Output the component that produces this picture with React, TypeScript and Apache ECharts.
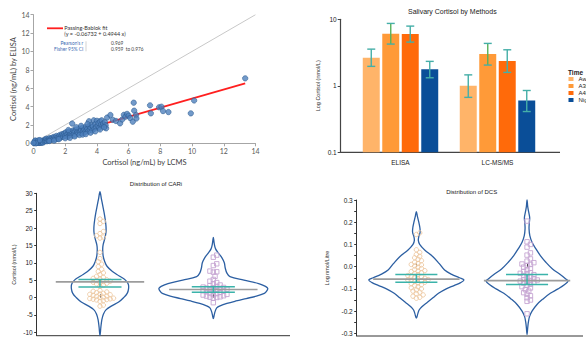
import React, { useEffect, useRef } from "react";
import * as echarts from "echarts";

// ---------- Panel 1: method comparison scatter ----------
const scatterLcms = [
  0.05, 0.08, 0.1, 0.12, 0.15, 0.18, 0.2, 0.22, 0.25, 0.28, 0.3, 0.32, 0.35, 0.38, 0.4, 0.42, 0.45, 0.48, 0.5, 0.52,
  0.55, 0.58, 0.6, 0.1, 0.3, 0.65, 0.7, 0.72, 0.75, 0.8, 0.82, 0.85, 0.9, 0.95, 1.0, 1.02, 1.05, 1.1, 1.15, 1.2,
  1.25, 1.3, 1.35, 1.4, 1.45, 1.5, 1.55, 1.6, 1.65, 1.7, 1.75, 1.8, 1.85, 1.9, 1.95, 2.0, 2.05, 2.1, 2.15, 2.2,
  2.25, 2.3, 2.35, 2.4, 2.44, 2.45, 2.5, 2.55, 2.6, 2.65, 2.7, 2.75, 2.8, 2.85, 2.9, 2.95, 3.0, 3.05, 3.1, 3.15,
  3.2, 3.25, 3.3, 3.35, 3.4, 3.45, 3.5, 3.52, 3.55, 3.6, 3.65, 3.7, 3.75, 3.8, 3.85, 3.9, 3.95, 4.0, 4.05, 4.1,
  4.15, 4.2, 4.25, 4.3, 4.35, 4.4, 4.5, 4.55, 4.58, 4.64, 4.85, 5.0, 5.2, 5.46, 5.6, 5.7, 5.8, 5.9, 6.0, 6.1,
  6.26, 6.32, 6.35, 6.47, 6.49, 7.35, 7.4, 7.92, 8.07, 8.17, 8.51, 9.92, 10.13, 13.35,
  1.0, 1.3, 1.6, 2.0, 2.3, 2.6, 2.9, 3.1, 3.3, 3.6, 3.9, 4.2, 2.2, 2.7, 3.0, 3.4, 4.45, 0.4, 0.15, 0.0
];
const scatterElisa = [
  0.02, 0.1, 0.05, 0.25, 0.08, 0.15, 0.03, 0.12, 0.2, 0.06, 0.1, 0.18, 0.04, 0.14, 0.08, 0.22, 0.12, 0.05, 0.18, 0.1,
  0.25, 0.15, 0.08, 0.3, 0.32, 0.3, 0.2, 0.42, 0.28, 0.35, 0.5, 0.22, 0.4, 0.3, 0.45, 0.58, 0.35, 0.5, 0.4, 0.62,
  0.48, 0.7, 0.55, 0.42, 0.8, 0.62, 0.5, 0.75, 0.9, 0.6, 0.82, 1.0, 0.7, 0.95, 1.1, 0.8, 1.2, 0.95, 0.7, 1.15,
  1.3, 0.9, 1.05, 1.25, 2.15, 0.85, 1.4, 1.1, 1.3, 0.95, 1.5, 1.2, 1.05, 1.35, 1.6, 1.25, 1.45, 1.1, 1.7, 1.35,
  1.55, 1.2, 1.8, 1.45, 1.6, 1.3, 2.4, 1.85, 1.5, 1.7, 2.0, 1.4, 1.85, 2.5, 1.6, 2.1, 1.75, 2.45, 1.9, 2.2,
  1.7, 2.4, 2.0, 2.5, 1.85, 2.15, 2.3, 1.95, 1.63, 2.8, 3.08, 2.55, 2.43, 2.17, 2.6, 3.1, 2.9, 3.2, 3.0, 2.75,
  2.35, 4.42, 3.55, 3.08, 2.7, 4.13, 3.26, 3.92, 3.98, 3.51, 3.4, 3.26, 4.66, 7.07,
  0.25, 0.3, 0.45, 0.55, 0.6, 0.75, 0.9, 0.95, 1.0, 1.15, 1.3, 1.5, 1.45, 1.75, 1.9, 2.1, 1.75, 0.35, 0.0, 0.05
];
const fitIntercept = -0.06732;
const fitSlope = 0.4944;
const fitLcmsRange = [0.14, 13.35];
const identityRange = [0, 14];

// ---------- Panel 2: salivary cortisol by methods ----------
const methodCategories = ["ELISA", "LC-MS/MS"];
const timeLevels = ["Awake", "A30", "A45", "Night"];
const cortisolMean = [
  [2.64, 1.0],
  [6.04, 3.0],
  [6.0, 2.35],
  [1.77, 0.6]
];
const cortisolLow = [
  [1.96, 0.67],
  [4.24, 2.05],
  [4.54, 1.59],
  [1.32, 0.41]
];
const cortisolHigh = [
  [3.56, 1.46],
  [8.67, 4.34],
  [7.9, 3.48],
  [2.33, 0.85]
];

// ---------- Panel 3: distribution of CARi ----------
const violinCategories = ["ELISA", "LC-MS/MS"];
const cariElisa = [
  22.6, 21.9, 21.3, 19.0, 18.4, 17.8, 17.4, 17.1, 13.0, 11.2, 10.3, 9.6, 8.9, 8.1, 7.5, 7.1, 6.6, 6.1, 5.8, 5.5,
  5.3, 5.1, 4.9, 4.7, 4.6, 4.4, 4.3, 4.1, 3.9, 3.6, 3.2, 2.0, 1.6, 1.4, 1.2, 1.0, 0.8, 0.6, 0.4, 0.3, 0.1, 0.0,
  -0.2, -0.3, -0.4, -0.5, -0.6, -0.7, -0.9, -1.1, 1.8, 0.9, -2.2, -2.5
];
const cariLcms = [
  12.2, 11.6, 9.7, 9.2, 7.6, 7.4, 7.3, 6.1, 5.2, 4.7, 4.3, 3.9, 3.6, 3.4, 3.2, 3.0, 2.9, 2.7, 2.6, 2.4, 2.3, 2.1,
  2.0, 1.8, 1.7, 1.5, 1.3, 1.1, 0.9, 0.7, 0.5, 0.4, 0.2, 0.1, 0.0, -0.2, 2.8, 1.9, 0.8, -1.5
];
// [value, half width as a share of the category band]
const cariElisaDensity = [
  [30.5, 0], [28.5, 0.012], [26.5, 0.024], [24.5, 0.036], [22.5, 0.046], [20.5, 0.053], [18.8, 0.053], [17, 0.043],
  [15.2, 0.028], [13.8, 0.024], [12, 0.028], [10.5, 0.04], [9, 0.062], [7.5, 0.11], [6.2, 0.17], [5, 0.225],
  [3.8, 0.25], [2.5, 0.252], [1.2, 0.24], [0, 0.21], [-1.3, 0.165], [-2.5, 0.1], [-3.5, 0.055], [-4.8, 0.03],
  [-6.5, 0.016], [-8.5, 0.008], [-11, 0]
];
const cariLcmsDensity = [
  [17.3, 0], [15.5, 0.008], [14, 0.02], [12.8, 0.045], [11.5, 0.075], [10, 0.097], [8.5, 0.105], [7, 0.12],
  [6, 0.147], [5, 0.27], [4, 0.4], [3.2, 0.46], [2.6, 0.48], [1.8, 0.47], [1.2, 0.45], [0.4, 0.38], [-0.3, 0.29],
  [-1, 0.2], [-1.7, 0.12], [-2.4, 0.06], [-3, 0.03], [-4, 0.016], [-5, 0.008], [-6.1, 0]
];
const cariCenter = [4.5, 2.3];
const cariCiHigh = [5.2, 3.1];
const cariCiLow = [3.0, 1.5];
const cariTicks = [-10, -5, 0, 5, 10, 15, 20, 25, 30];

// ---------- Panel 4: distribution of DCS ----------
const dcsElisa = [
  0.152, 0.145, 0.076, 0.064, 0.055, 0.047, 0.04, 0.033, 0.027, 0.02, 0.014, 0.008, 0.003, -0.002, -0.008, -0.013,
  -0.018, -0.022, -0.027, -0.031, -0.036, -0.04, -0.044, -0.048, -0.052, -0.055, -0.058, -0.061, -0.064, -0.067,
  -0.07, -0.073, -0.077, -0.081, -0.085, -0.09, -0.095, -0.1, -0.105, -0.11, -0.115, -0.121, -0.127, -0.133,
  -0.138, -0.142, -0.06, -0.045, -0.02, 0.01
];
const dcsLcms = [
  0.205, 0.112, 0.1, 0.088, 0.062, 0.052, 0.035, 0.025, 0.018, 0.012, 0.005, -0.002, -0.008, -0.015, -0.022,
  -0.027, -0.032, -0.036, -0.04, -0.045, -0.05, -0.054, -0.058, -0.062, -0.066, -0.07, -0.074, -0.079, -0.084,
  -0.09, -0.096, -0.103, -0.11, -0.117, -0.124, -0.131, -0.14, -0.15, -0.156, -0.212, -0.03, -0.06, -0.065, 0.01
];
const dcsElisaDensity = [
  [0.248, 0], [0.225, 0.01], [0.2, 0.022], [0.175, 0.032], [0.155, 0.034], [0.135, 0.022], [0.118, 0.018],
  [0.1, 0.03], [0.075, 0.075], [0.045, 0.15], [0.015, 0.205], [-0.015, 0.255], [-0.035, 0.32], [-0.05, 0.39],
  [-0.06, 0.43], [-0.072, 0.4], [-0.085, 0.34], [-0.1, 0.27], [-0.12, 0.2], [-0.14, 0.15], [-0.16, 0.1],
  [-0.18, 0.05], [-0.195, 0.025], [-0.21, 0.014], [-0.232, 0]
];
const dcsLcmsDensity = [
  [0.3, 0], [0.27, 0.006], [0.245, 0.015], [0.22, 0.024], [0.195, 0.02], [0.17, 0.018], [0.14, 0.025],
  [0.11, 0.045], [0.08, 0.08], [0.05, 0.12], [0.02, 0.17], [-0.01, 0.23], [-0.035, 0.3], [-0.055, 0.35],
  [-0.065, 0.37], [-0.08, 0.34], [-0.1, 0.28], [-0.12, 0.21], [-0.145, 0.145], [-0.17, 0.09], [-0.2, 0.045],
  [-0.225, 0.022], [-0.25, 0.012], [-0.275, 0.006], [-0.305, 0]
];
const dcsCenter = [-0.056, -0.063];
const dcsCiHigh = [-0.035, -0.035];
const dcsCiLow = [-0.07, -0.08];
const dcsTicks = [-0.3, -0.2, -0.1, 0, 0.1, 0.2, 0.3];
const dcsMinorTicks = [-0.3, -0.25, -0.2, -0.15, -0.1, -0.05, 0, 0.05, 0.1, 0.15, 0.2, 0.25, 0.3];

// ---------- styles ----------
const FONT = "Liberation Sans";
const BAR_COLORS = ["#FFB469", "#FF9A38", "#FF6A0A", "#0A4E98"];
const ERR_COLORS = ["#45AFA8", "#58B15A", "#45AFA8", "#45AFA8"];
const VIOLIN_STROKE = "#2C5FA2";
const POINT_COLORS = ["#EDC8A2", "#C6A6D3"];

function barRenderer(k: number) {
  return (params: any, api: any) => {
    const cat = api.value(0);
    const val = api.value(1);
    const lo = api.value(2);
    const hi = api.value(3);
    const band = api.size([1, 0])[0];
    const bw = band * 0.175;
    const gap = band * 0.026;
    const top = api.coord([cat, val]);
    const base = api.coord([cat, 0.1]);
    const cx = top[0] + (k - 1.5) * (bw + gap);
    const pl = api.coord([cat, lo]);
    const ph = api.coord([cat, hi]);
    const cap = 4;
    const ls = { stroke: ERR_COLORS[k], lineWidth: 1.4 };
    const cs = { stroke: "#45AFA8", lineWidth: 1.4 };
    return {
      type: "group",
      children: [
        { type: "rect", shape: { x: cx - bw / 2, y: top[1], width: bw, height: base[1] - top[1] }, style: { fill: BAR_COLORS[k] } },
        { type: "line", shape: { x1: cx, y1: ph[1], x2: cx, y2: pl[1] }, style: ls },
        { type: "line", shape: { x1: cx - cap, y1: ph[1], x2: cx + cap, y2: ph[1] }, style: cs },
        { type: "line", shape: { x1: cx - cap, y1: pl[1], x2: cx + cap, y2: pl[1] }, style: cs }
      ]
    };
  };
}

function violinRenderer(densities: number[][][]) {
  return (params: any, api: any) => {
    const cat = api.value(0);
    const band = api.size([1, 0])[0];
    const prof = densities[params.dataIndex];
    const right: number[][] = [];
    const left: number[][] = [];
    prof.forEach(([v, w], i) => {
      const p = api.coord([cat, v]);
      right.push([p[0] + w * band, p[1]]);
      if (i > 0 && i < prof.length - 1) left.push([p[0] - w * band, p[1]]);
    });
    const pts = right.concat(left.reverse());
    return {
      type: "polygon",
      shape: { points: pts, smooth: 0.35 },
      style: { fill: "none", stroke: VIOLIN_STROKE, lineWidth: 1.3 }
    };
  };
}

function swarmRenderer(groups: number[][]) {
  return (params: any, api: any) => {
    const idx = params.dataIndex;
    const cat = api.value(0);
    const vals = [...groups[idx]].sort((a, b) => a - b);
    const D = 3.4;
    const step = 1.7;
    const placed: number[][] = [];
    const children: any[] = [];
    const color = POINT_COLORS[idx];
    vals.forEach((v) => {
      const p = api.coord([cat, v]);
      let dx = 0;
      for (let k = 0; k < 80; k++) {
        const cand = k === 0 ? 0 : (k % 2 ? 1 : -1) * Math.ceil(k / 2) * step;
        const ok = placed.every((q) => (q[0] - cand) ** 2 + (q[1] - p[1]) ** 2 >= D * D);
        if (ok) {
          dx = cand;
          break;
        }
      }
      placed.push([dx, p[1]]);
      if (idx === 0) {
        children.push({
          type: "circle",
          shape: { cx: p[0] + dx, cy: p[1], r: 2.2 },
          style: { fill: "none", stroke: color, lineWidth: 0.9 }
        });
      } else {
        children.push({
          type: "rect",
          shape: { x: p[0] + dx - 2.2, y: p[1] - 2.2, width: 4.4, height: 4.4 },
          style: { fill: "none", stroke: color, lineWidth: 0.9 }
        });
      }
    });
    return { type: "group", children };
  };
}

function statsRenderer(center: number[], hi: number[], lo: number[]) {
  return (params: any, api: any) => {
    const i = params.dataIndex;
    const cat = api.value(0);
    const band = api.size([1, 0])[0];
    const pc = api.coord([cat, center[i]]);
    const ph = api.coord([cat, hi[i]]);
    const pl = api.coord([cat, lo[i]]);
    const gw = band * 0.39;
    const tw = band * 0.19;
    const grey = { stroke: "#9C9C9C", lineWidth: 1.6 };
    const teal = { stroke: "#3BB3AA", lineWidth: 1.5 };
    return {
      type: "group",
      children: [
        { type: "line", shape: { x1: pc[0] - gw, y1: pc[1], x2: pc[0] + gw, y2: pc[1] }, style: grey },
        { type: "line", shape: { x1: ph[0] - tw, y1: ph[1], x2: ph[0] + tw, y2: ph[1] }, style: teal },
        { type: "line", shape: { x1: pl[0] - tw, y1: pl[1], x2: pl[0] + tw, y2: pl[1] }, style: teal },
        { type: "line", shape: { x1: ph[0], y1: ph[1], x2: pl[0], y2: pl[1] }, style: teal }
      ]
    };
  };
}

function txt(text: string, x: number, y: number, o: any = {}) {
  return {
    type: "text",
    x,
    y,
    rotation: o.rotation || 0,
    silent: true,
    style: {
      text,
      fill: o.fill || "#333",
      fontSize: o.fontSize || 6,
      fontFamily: o.fontFamily || FONT,
      fontWeight: o.fontWeight || "normal",
      textAlign: o.align || "left",
      textVerticalAlign: "middle"
    }
  };
}

function ln(x1: number, y1: number, x2: number, y2: number, stroke: string, w: number) {
  return { type: "line", silent: true, shape: { x1, y1, x2, y2 }, style: { stroke, lineWidth: w } };
}

function buildOption() {
  const scatterData = scatterLcms.map((x, i) => [x, scatterElisa[i]]);
  const fitData = fitLcmsRange.map((x) => [x, fitIntercept + fitSlope * x]);
  const identityData = identityRange.map((x) => [x, x]);

  const violinAxisLabel = { fontSize: 6.5, color: "#222", fontFamily: FONT };

  const series: any[] = [
    {
      type: "line",
      xAxisIndex: 0,
      yAxisIndex: 0,
      data: identityData,
      symbol: "none",
      silent: true,
      lineStyle: { color: "#C8C8C8", width: 1 },
      z: 1
    },
    {
      type: "line",
      xAxisIndex: 0,
      yAxisIndex: 0,
      data: fitData,
      symbol: "none",
      silent: true,
      lineStyle: { color: "#FF1F1F", width: 1.8 },
      z: 2
    },
    {
      type: "scatter",
      xAxisIndex: 0,
      yAxisIndex: 0,
      data: scatterData,
      symbolSize: 5.4,
      itemStyle: { color: "#4F81BD", borderColor: "#2B5A90", borderWidth: 0.7 },
      z: 3
    }
  ];

  timeLevels.forEach((name, k) => {
    series.push({
      type: "custom",
      name,
      xAxisIndex: 1,
      yAxisIndex: 1,
      itemStyle: { color: BAR_COLORS[k] },
      data: methodCategories.map((_, c) => [c, cortisolMean[k][c], cortisolLow[k][c], cortisolHigh[k][c]]),
      encode: { x: 0, y: 1 },
      renderItem: barRenderer(k)
    });
  });

  const catData = violinCategories.map((_, c) => [c, 0]);
  series.push(
    { type: "custom", xAxisIndex: 2, yAxisIndex: 2, data: catData, encode: { x: 0, y: 1 }, renderItem: violinRenderer([cariElisaDensity, cariLcmsDensity]), z: 2 },
    { type: "custom", xAxisIndex: 2, yAxisIndex: 2, data: catData, encode: { x: 0, y: 1 }, renderItem: swarmRenderer([cariElisa, cariLcms]), z: 3 },
    { type: "custom", xAxisIndex: 2, yAxisIndex: 2, data: catData, encode: { x: 0, y: 1 }, renderItem: statsRenderer(cariCenter, cariCiHigh, cariCiLow), z: 4 },
    { type: "custom", xAxisIndex: 3, yAxisIndex: 3, data: catData, encode: { x: 0, y: 1 }, renderItem: violinRenderer([dcsElisaDensity, dcsLcmsDensity]), z: 2 },
    { type: "custom", xAxisIndex: 3, yAxisIndex: 3, data: catData, encode: { x: 0, y: 1 }, renderItem: swarmRenderer([dcsElisa, dcsLcms]), z: 3 },
    { type: "custom", xAxisIndex: 3, yAxisIndex: 3, data: catData, encode: { x: 0, y: 1 }, renderItem: statsRenderer(dcsCenter, dcsCiHigh, dcsCiLow), z: 4 }
  );

  const p1Label = { fontSize: 7, color: "#595959", fontFamily: "Lato", margin: 4 };
  const p1Line = { show: true, lineStyle: { color: "#A6A6A6", width: 1 } };
  const p1Tick = { show: true, length: 3, lineStyle: { color: "#A6A6A6" } };

  return {
    animation: false,
    backgroundColor: "#ffffff",
    textStyle: { fontFamily: FONT },
    grid: [
      { left: 33.5, top: 14.7, width: 222, height: 128.6, outerBoundsMode: "none" },
      { left: 352, top: 19.3, width: 194, height: 133, outerBoundsMode: "none" },
      { left: 43.3, top: 193.3, width: 226.7, height: 142.4, outerBoundsMode: "none" },
      { left: 361, top: 200, width: 221.4, height: 136, outerBoundsMode: "none" }
    ],
    xAxis: [
      {
        gridIndex: 0,
        type: "value",
        min: 0,
        max: 14,
        interval: 2,
        axisLine: p1Line,
        axisTick: p1Tick,
        axisLabel: p1Label,
        splitLine: { show: false },
        name: "Cortisol (ng/mL) by LCMS",
        nameLocation: "middle",
        nameGap: 15,
        nameTextStyle: { fontSize: 7.5, color: "#404040", fontFamily: "Lato" }
      },
      {
        gridIndex: 1,
        type: "category",
        data: methodCategories,
        axisLine: { show: false },
        axisTick: { show: false },
        axisLabel: { fontSize: 6.5, color: "#222", margin: 7 }
      },
      {
        gridIndex: 2,
        type: "category",
        data: violinCategories,
        axisLine: { show: false },
        axisTick: { show: true, inside: true, alignWithLabel: true, length: 3, lineStyle: { color: "#333" } },
        axisLabel: { ...violinAxisLabel, margin: 4 }
      },
      {
        gridIndex: 3,
        type: "category",
        data: violinCategories,
        axisLine: { show: false },
        axisTick: { show: true, inside: true, alignWithLabel: true, length: 3, lineStyle: { color: "#333" } },
        axisLabel: { ...violinAxisLabel, margin: 4 }
      }
    ],
    yAxis: [
      {
        gridIndex: 0,
        type: "value",
        min: 0,
        max: 14,
        interval: 2,
        axisLine: p1Line,
        axisTick: p1Tick,
        axisLabel: p1Label,
        splitLine: { show: false },
        name: "Cortisol (ng/mL) by ELISA",
        nameLocation: "middle",
        nameGap: 14,
        nameTextStyle: { fontSize: 7.5, color: "#404040", fontFamily: "Lato" }
      },
      {
        gridIndex: 1,
        type: "log",
        logBase: 10,
        min: 0.1,
        max: 10,
        offset: 11.3,
        axisLine: { show: true, lineStyle: { color: "#444", width: 1.2 } },
        axisTick: { show: true, length: 3, lineStyle: { color: "#444" } },
        axisLabel: { fontSize: 6.5, color: "#222", margin: 4 },
        splitLine: { show: false },
        name: "Log Cortisol (nmol/L)",
        nameLocation: "middle",
        nameGap: 20,
        nameTextStyle: { fontSize: 5.5, color: "#333" }
      },
      {
        gridIndex: 2,
        type: "value",
        min: -11,
        max: 30,
        offset: 6.6,
        axisLine: { show: true, lineStyle: { color: "#333", width: 1 } },
        axisTick: { show: true, length: 2.5, customValues: cariTicks, lineStyle: { color: "#333" } },
        axisLabel: { fontSize: 6.5, color: "#222", margin: 4, customValues: cariTicks },
        splitLine: { show: false },
        name: "Cortisol (nmol/L)",
        nameLocation: "middle",
        nameGap: 20,
        nameTextStyle: { fontSize: 5.5, color: "#333" }
      },
      {
        gridIndex: 3,
        type: "value",
        min: -0.312,
        max: 0.3,
        offset: 4.3,
        axisLine: { show: true, lineStyle: { color: "#333", width: 1 } },
        axisTick: { show: true, length: 2.5, customValues: dcsMinorTicks, lineStyle: { color: "#333" } },
        axisLabel: {
          fontSize: 6.5,
          color: "#222",
          margin: 4,
          customValues: dcsTicks,
          formatter: (v: number) => v.toFixed(1)
        },
        splitLine: { show: false },
        name: "Log nmol/Litre",
        nameLocation: "middle",
        nameGap: 27,
        nameTextStyle: { fontSize: 5.5, color: "#333" }
      }
    ],
    legend: {
      orient: "vertical",
      left: 568.5,
      top: 76,
      padding: 0,
      itemWidth: 5,
      itemHeight: 4,
      itemGap: 1,
      textStyle: { fontSize: 6, color: "#222", padding: [0, 0, 0, 0] },
      data: timeLevels.map((n) => ({ name: n, icon: "rect" })),
      selectedMode: false
    },
    graphic: [
      // panel 1 legend
      ln(47, 28.3, 63, 28.3, "#FF1F1F", 1.8),
      txt("Passing-Bablok fit", 64.3, 28.3, { fontSize: 5.5, fontFamily: "Lato", fill: "#333" }),
      txt("(y = -0.06732 + 0.4944 x)", 64.3, 34.3, { fontSize: 5.5, fontFamily: "Lato", fill: "#333" }),
      txt("Pearson's r", 83.3, 43.3, { fontSize: 4.8, fontFamily: "Lato", fill: "#3D6BB3", align: "right" }),
      txt("Fisher 95% CI", 83.3, 48.7, { fontSize: 4.8, fontFamily: "Lato", fill: "#3D6BB3", align: "right" }),
      ln(86, 41.3, 86, 51.3, "#C8C8C8", 0.8),
      txt("0.969", 111, 43.3, { fontSize: 4.8, fontFamily: "Lato", fill: "#444" }),
      txt("0.959  to 0.976", 111, 48.7, { fontSize: 4.8, fontFamily: "Lato", fill: "#444" }),
      // panel 2
      txt("Salivary Cortisol by Methods", 452.3, 11.7, { fontSize: 7, fill: "#222", align: "center" }),
      ln(340.7, 152.3, 560, 152.3, "#444", 1.2),
      txt("Time", 568, 72.5, { fontSize: 6.5, fill: "#222", fontWeight: "bold" }),
      // panel 3
      txt("Distribution of CARi", 156, 184, { fontSize: 6, fill: "#222", align: "center" }),
      ln(36.7, 335.7, 290, 335.7, "#333", 1),
      // panel 4
      txt("Distribution of DCS", 471.7, 191.7, { fontSize: 6, fill: "#222", align: "center" }),
      ln(356.7, 336, 583, 336, "#333", 1)
    ],
    series
  };
}

export default function App() {
  const ref = useRef<HTMLDivElement>(null);
  useEffect(() => {
    const chart = echarts.init(ref.current!, null, { renderer: "svg" });
    chart.setOption(buildOption() as any);
    return () => chart.dispose();
  }, []);
  return (
    <div
      ref={ref}
      style={{ position: "absolute", left: 0, top: 0, width: 586, height: 340, background: "#fff" }}
    />
  );
}
